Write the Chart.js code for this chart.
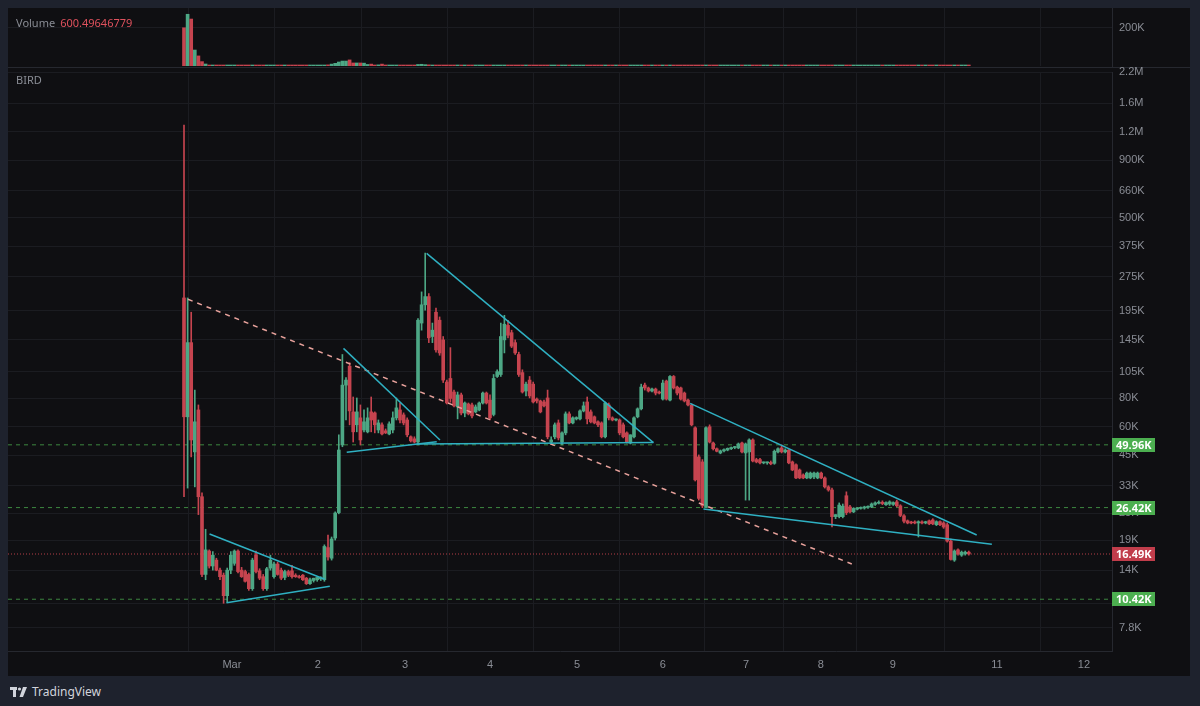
<!DOCTYPE html>
<html>
<head>
<meta charset="utf-8">
<script src="https://cdn.jsdelivr.net/npm/chart.js@4.4.1/dist/chart.umd.min.js"></script>
<style>
html,body{margin:0;padding:0;background:#1e222d;width:1200px;height:706px;overflow:hidden;font-family:"Noto Sans",Roboto,sans-serif}
#panel{position:absolute;left:8px;top:8px;width:1182px;height:668px;background:#0f0f12}
canvas{position:absolute;left:8px}
#vol{top:8px}
#main{top:62px}
.hl{position:absolute;height:1px;background:#26282f}
.lbl{position:absolute;font-size:11px;color:#8a8d95;white-space:nowrap}
#volVal{color:#e0525e;margin-left:5px}
#tv{position:absolute;left:10px;top:683px;color:#d1d4dc;font-size:12px;display:flex;align-items:center;gap:4px}
</style>
</head>
<body>
<div id="panel"></div>
<div class="hl" style="left:8px;top:67px;width:1182px"></div>
<canvas id="vol" width="1182" height="59"></canvas>
<canvas id="main" width="1182" height="614"></canvas>
<div class="lbl" style="left:16px;top:15px">Volume<span id="volVal">600.49646779</span></div>
<div class="lbl" style="left:16px;top:72px">BIRD</div>
<div id="tv"><svg width="18" height="12" viewBox="0 0 18 12"><rect x="0" y="1" width="7" height="3" fill="#d1d4dc"/><rect x="3" y="1" width="3" height="10" fill="#d1d4dc"/><circle cx="9.5" cy="3" r="1.6" fill="#d1d4dc"/><polygon points="13,1 17,1 13,11 9.5,11" fill="#d1d4dc"/></svg><span>TradingView</span></div>
<script>
// hourly candles, prices in K
const open = [
  222,66.4,141,46.5,71.2,29.5,13.4,17.0,14.6,15.5,
  14.0,13.3,10.8,14.0,15.0,17.0,14.0,13.8,13.4,11.6,
  16.3,13.9,13.1,11.6,14.3,13.1,14.9,14.0,13.0,13.8,
  13.9,13.3,13.1,13.3,12.9,12.2,12.6,12.7,12.8,12.7,
  17.6,15.8,19.4,25.1,49.9,91.6,111,69.8,61.2,65.7,
  58.1,57.0,69.8,69.1,58.1,61.2,57.6,55.8,58.1,65.7,
  71.2,67.7,64.3,54.2,53.1,51.4,172,207,225,150,
  192,177,145,94.5,98,85.4,73.4,82.9,69.0,75.6,
  74.9,69.8,71.2,76.4,84.5,78.7,68.0,100,102,145,
  168,156,141,125,104,86.3,96.4,92.5,79.5,78.0,
  77.2,80.4,51.4,54.2,62.4,51.4,56.4,68.4,62.4,65.0,
  65.0,70.5,77.2,69.8,66.4,63.1,62.4,54.2,74.9,65.7,
  64.3,64.3,61.2,56.4,50.9,54.2,66.4,72.0,91.6,89.0,
  86.3,88.0,85.4,79.5,95.5,78.7,100,89.8,89.0,84.5,
  78.7,74.9,59.4,44.2,42.0,26.6,60.0,50.9,48.0,46.0,
  47.0,47.4,48.0,48.6,48.4,50.9,46.0,46.5,52.5,43.0,
  43.0,41.6,41.6,41.8,41.4,46.5,48.4,46.5,47.4,42.0,
  40.8,38.7,36.8,35.7,35.7,36.1,35.7,37.5,35.7,32.6,
  31.6,24.1,24.1,24.1,29.8,26.6,25.3,26.0,26.2,26.3,
  26.5,26.6,27.3,27.6,27.9,27.2,27.4,27.3,28.0,26.9,
  24.3,23.1,22.8,22.8,22.6,22.8,22.6,23.1,23.3,22.2,
  22.9,22.6,22.2,18.8,15.5,17.2,16.3,16.5,16.8
];
const high = [
  1284,222,192,87.1,74.9,30.7,21.2,17.2,16.9,15.8,
  14.3,13.6,14.3,16.9,17.2,17.2,14.4,14.0,13.6,15.8,
  17.0,14.2,13.4,14.4,16.3,15.2,15.2,14.3,14.0,14.0,
  14.7,13.5,13.3,13.4,13.0,12.9,12.9,13.0,13.1,18.1,
  20.0,19.6,25.3,55.3,125,99,115,81.2,80.4,74.9,
  71.2,72.7,81.2,69.8,64.3,62.4,58.7,63.1,69.8,80.4,
  76.4,69.1,65.7,54.7,54.2,180,236,350,232,172,
  200,183,150,96.4,134,87.1,85.4,84.5,77.2,76.4,
  76.4,74.9,77.2,85.4,85.4,82.9,102,107,172,186,
  177,160,145,128,107,94.5,100,94.5,80.4,78.7,
  78.7,87.1,54.2,62.4,64.3,57.0,69.8,69.8,66.4,66.4,
  71.2,77.2,81.2,71.2,67.0,63.7,63.1,77.2,76.4,66.4,
  65.0,65.0,62.4,57.0,55.3,66.4,72.7,92.5,93.5,89.8,
  88.9,88.9,86.3,96.4,96.4,101,101,90.7,89.8,85.4,
  79.5,75.6,60.0,45.1,43.0,60.0,61.2,51.4,48.4,47.4,
  48.0,48.4,48.9,49.2,50.9,51.4,50.9,53.1,53.1,43.6,
  43.6,42.0,42.0,42.4,47.4,48.4,49.9,48.0,47.6,42.4,
  41.2,39.1,37.2,37.9,37.9,37.9,37.9,37.9,36.1,33.0,
  32.2,24.6,27.7,27.4,31.0,27.0,26.4,26.4,26.6,26.8,
  26.9,27.7,28.0,28.3,28.3,28.0,28.3,28.0,28.5,27.2,
  24.6,23.3,23.0,23.1,23.1,23.1,23.0,23.3,23.6,23.1,
  23.1,22.9,22.6,19.2,17.2,17.4,17.0,17.0,17.0
];
const low = [
  29.5,32.2,44.2,32.6,24.6,13.1,12.7,14.3,14.0,13.9,
  12.7,10.0,10.1,13.5,14.7,13.6,13.0,12.4,11.4,11.4,
  13.6,12.7,11.4,11.4,14.0,12.9,13.3,12.7,12.7,13.1,
  12.9,13.0,12.9,12.6,12.1,12.1,12.4,12.5,12.6,12.5,
  15.5,15.5,19.0,24.8,49.0,64.3,61.2,51.4,57.0,49.9,
  57.0,56.4,57.0,56.4,56.4,55.3,56.0,55.3,56.4,64.3,
  62.4,61.2,54.2,51.4,50.9,49.9,160,196,141,141,
  128,124,94,75.6,77,73.4,65.0,67.7,66.4,67.7,
  65.7,69.1,70.5,75.6,75.6,64.3,67.0,99,100,127,
  148,134,125,100,84.5,82.1,80.4,76.4,76.4,69.1,
  73.4,53.1,50.4,53.1,52.5,49.9,55.3,61.8,61.8,64.3,
  64.3,69.8,61.8,62.4,61.8,60.0,53.6,53.6,64.3,63.7,
  63.7,55.3,53.6,50.9,50.4,53.6,65.7,71.2,87.1,85.4,
  85.4,82.9,83.7,78.7,78.7,78.0,88.0,82.9,78.7,77.2,
  74.2,60.6,34.6,28.5,26.4,26.4,50.9,47.4,46.5,45.6,
  46.5,47.0,47.6,48.0,48.0,46.0,28.5,28.5,42.0,41.6,
  41.2,41.2,41.0,40.8,41.0,46.0,46.0,46.0,41.2,38.4,
  35.4,35.4,35.4,35.4,35.4,35.4,35.4,35.4,32.2,31.2,
  21.7,23.6,23.8,23.8,24.6,25.0,25.1,25.8,26.0,26.0,
  26.2,26.4,27.0,27.4,27.2,27.0,27.0,27.0,26.6,24.1,
  22.6,22.4,22.4,22.4,19.6,22.4,22.4,22.2,22.2,22.0,
  22.0,21.4,18.6,15.5,15.3,16.3,16.1,16.3,16.3
];
const close = [
  66.4,141,52.5,63.1,29.5,13.4,17.2,14.6,16.3,14.0,
  13.1,10.8,14.0,16.3,17.0,13.8,13.1,12.5,11.6,15.5,
  13.8,12.9,11.6,14.2,15.5,14.9,13.4,12.9,13.8,13.3,
  13.1,13.1,13.0,12.7,12.2,12.7,12.9,13.0,12.9,17.8,
  16.0,19.2,25.0,47.4,91.6,96.4,70.5,57.0,69.8,52.5,
  63.1,65.7,64.3,61.2,62.4,55.8,56.4,61.8,65.7,72.7,
  64.3,62.4,55.3,52.0,51.4,177,207,225,148,160,
  131,127,96.4,76.4,80,74.2,82.9,69.0,76.4,68.4,
  67.0,73.4,76.4,84.5,76.4,65.7,98,105,150,170,
  152,136,127,102,85.4,92.5,82.1,77.2,78.0,69.8,
  74.2,54.2,52.5,61.2,53.6,56.4,68.4,62.4,65.7,65.9,
  70.5,74.2,65.0,63.1,62.4,61.2,54.2,76.4,65.7,64.3,
  64.9,56.4,54.2,51.4,55.3,65.7,72.0,89.8,89.0,86.3,
  88.0,84.5,84.5,93.5,79.5,100,89.0,84.5,79.5,78.0,
  74.9,61.2,35.0,29.0,26.9,59.4,51.4,48.0,46.8,47.0,
  47.6,48.2,48.6,48.9,50.4,46.5,50.4,52.5,42.4,42.0,
  41.6,41.8,41.9,41.2,46.8,48.0,46.5,47.4,41.6,38.7,
  35.7,35.7,35.7,37.5,37.5,37.5,37.5,35.7,32.6,31.6,
  24.1,24.6,27.1,26.8,25.1,25.3,26.2,26.3,26.4,26.6,
  26.7,27.4,27.7,27.9,27.5,27.8,28.0,27.8,26.9,24.4,
  23.0,22.6,22.6,22.6,22.9,22.6,22.9,22.4,22.4,22.9,
  22.2,21.7,18.8,15.6,17.0,16.5,16.8,16.8,16.49
];
const volume = [
  201,272,247,84,53,23,10.5,5,4,3,
  3,4,3,3,2.5,2.5,2,2,2.5,4,
  2.5,2,2,2.5,2,2,2,2,1.5,1.5,
  2,1.5,1.5,1.5,2,1.5,1.5,1.5,1.5,5,
  6,10,14,21,26,26,32,16,16,16,
  15,8,10,5,6,10,4,3,4,5,
  4,3,3,2.5,2.5,8,9,7,6,4,
  4,3,4,3,3,2.5,3,2.5,2,2,
  2,2,2,2.5,2,2.5,3,2.5,5,5,
  4,3,3,3,3,2,2,2.5,2,2,
  2,3,2,2,2,2,2.5,2,1.5,1.5,
  1.5,2,2,1.5,1.5,1.5,2,3,2,1.5,
  1.5,1.5,1.5,2,1.5,2,2,3,2,1.5,
  1.5,1.5,1.5,2,2,2,1.5,1.5,1.5,1.5,
  1.5,2,4,3,3,4,2,1.5,1.5,1,
  1,1,1,1,1.5,1.5,3,3,1.5,1,
  1,1,1,1,1.5,1.5,1.5,1,1.5,1.5,
  1.5,1,1,1,1,1,1,1,1.5,1,
  3,1.5,1.5,1.5,1.5,1,1,1,1,1,
  1,1,1,1,1,1,1,1,1.5,1.5,
  1.5,1,1,1,1.5,1,1,1,1,1,
  1,1,2,3,1.5,1,1,1,1
];

// time axis: bar index where each day starts
const dayTicks  = [13.3, 37.2, 61.4, 85, 109.2, 133, 156.1, 176.9, 196.9, 225.8, 250];
const dayLabels = ["Mar","2","3","4","5","6","7","8","9","11","12"];
const priceTicks = [2200,1600,1200,900,660,500,375,275,195,145,105,80,60,45,33,25,19,14,10,7.8];

// horizontal levels
const levelValues = [49.96, 26.42, 10.42, 16.49];
const levelLabels = ["49.96K","26.42K","10.42K","16.49K"];
const levelKinds  = ["sup","sup","sup","last"];

// drawings: [barIndex, price]
const tri1Top  = [[7.1,20.2],[39.1,12.76]];
const tri1Bot  = [[11.8,10.06],[40.5,11.9]];
const tri2Top  = [[44.3,133],[71.1,52.5]];
const tri2Bot  = [[45.2,46.3],[70.2,51.6]];
const tri3Top  = [[67.4,349],[130.4,51.1]];
const tri3Bot  = [[64.6,50.4],[130.4,51.1]];
const wedgeTop = [[140.6,76.1],[220.2,20.0]];
const wedgeBot = [[144.3,26.05],[224.4,18.2]];
const mainTrend = [[1.1,218.9],[185.5,14.9]];

const UP = "#4da785", DN = "#c6444f";
const GRID = "#1b1c21", AXIS = "#26282f", TXT = "#8a8d95";
const XMIN = -48.89, XMAX = 257.78;

const idx = open.map((_, i) => i);
const col = i => close[i] >= open[i] ? UP : DN;
const fmtK = v => v >= 1000 ? (v / 1000) + "M" : v + "K";
const pts = a => a.map(p => ({x: p[0], y: p[1]}));

const xScale = (showLabels) => ({
  type: "linear", min: XMIN, max: XMAX, offset: false,
  afterBuildTicks: s => { s.ticks = dayTicks.map(v => ({value: v})); },
  afterFit: s => { s.height = showLabels ? 25 : 0; s.paddingLeft = 0; s.paddingRight = 0; },
  ticks: {display: showLabels, color: TXT, font: {size: 11}, padding: 7, maxRotation: 0, autoSkip: false,
    callback: (v, i) => dayLabels[i]},
  grid: {color: GRID, drawTicks: false},
  border: {display: showLabels, color: AXIS}
});

// right price axis, fixed width, no label overhang padding
const yFit = s => { s.width = 78; s.paddingTop = 0; s.paddingBottom = 0; };

function line(data, color, width, dash, order) {
  return {type: "line", data: pts(data), borderColor: color, borderWidth: width,
    borderDash: dash, pointRadius: 0, order: order, fill: false};
}

const levelDs = levelValues.map((v, k) => line([[XMIN, v], [XMAX, v]],
  levelKinds[k] === "last" ? "rgba(198,68,79,0.9)" : "rgba(76,175,80,0.75)",
  1, levelKinds[k] === "last" ? [1, 2] : [4, 4], 10));

const badges = {
  id: "badges",
  afterDraw(c) {
    const y = c.scales.y, ctx = c.ctx, x0 = c.chartArea.right;
    ctx.save();
    ctx.font = "bold 11px 'Noto Sans', Roboto, sans-serif";
    ctx.textBaseline = "middle";
    levelValues.forEach((v, k) => {
      const py = Math.round(y.getPixelForValue(v));
      ctx.fillStyle = levelKinds[k] === "last" ? "#c13d4b" : "#4caf50";
      ctx.fillRect(x0, py - 7, 43, 14);
      ctx.fillStyle = "#ffffff";
      ctx.fillText(levelLabels[k], x0 + 4, py + 0.5);
    });
    ctx.restore();
  }
};

new Chart(document.getElementById("main"), {
  type: "bar",
  data: {
    datasets: [
      ...levelDs,
      line(mainTrend, "#e8a29c", 1.5, [5, 5], 1),
      line(tri1Top, "#2fb0c2", 1.5, [], 0),
      line(tri1Bot, "#2fb0c2", 1.5, [], 0),
      line(tri2Top, "#2fb0c2", 1.5, [], 0),
      line(tri2Bot, "#2fb0c2", 1.5, [], 0),
      line(tri3Top, "#2fb0c2", 1.5, [], 0),
      line(tri3Bot, "#2fb0c2", 1.5, [], 0),
      line(wedgeTop, "#2fb0c2", 1.5, [], 0),
      line(wedgeBot, "#2fb0c2", 1.5, [], 0),
      {type: "bar", data: idx.map(i => ({x: i, y: [low[i], high[i]]})),
        backgroundColor: idx.map(col), barThickness: 1, grouped: false, order: 3},
      {type: "bar", data: idx.map(i => ({x: i, y: [open[i], close[i]]})),
        backgroundColor: idx.map(col), barThickness: 3, minBarLength: 1, grouped: false, order: 2}
    ]
  },
  options: {
    responsive: false, animation: false,
    layout: {padding: {top: 10, left: 0, right: 0, bottom: 0}},
    plugins: {legend: {display: false}, tooltip: {enabled: false}},
    scales: {
      x: xScale(true),
      y: {
        type: "logarithmic", position: "right", min: 6.16, max: 2200,
        afterBuildTicks: s => { s.ticks = priceTicks.map(v => ({value: v})); },
        afterFit: yFit,
        ticks: {color: TXT, font: {size: 11}, padding: 7, autoSkip: false, callback: v => fmtK(v)},
        grid: {color: GRID, drawTicks: false},
        border: {color: AXIS}
      }
    }
  },
  plugins: [badges]
});

new Chart(document.getElementById("vol"), {
  type: "bar",
  data: {
    datasets: [{data: idx.map(i => ({x: i, y: volume[i]})),
      backgroundColor: idx.map(col), barThickness: 3, minBarLength: 1}]
  },
  options: {
    responsive: false, animation: false,
    layout: {padding: {top: 0, left: 0, right: 0, bottom: 1}},
    plugins: {legend: {display: false}, tooltip: {enabled: false}},
    scales: {
      x: xScale(false),
      y: {
        position: "right", min: 0, max: 305,
        afterBuildTicks: s => { s.ticks = [{value: 200}]; },
        afterFit: yFit,
        ticks: {color: TXT, font: {size: 11}, padding: 7, callback: v => fmtK(v)},
        grid: {color: GRID, drawTicks: false},
        border: {color: AXIS}
      }
    }
  }
});
</script>
</body>
</html>
